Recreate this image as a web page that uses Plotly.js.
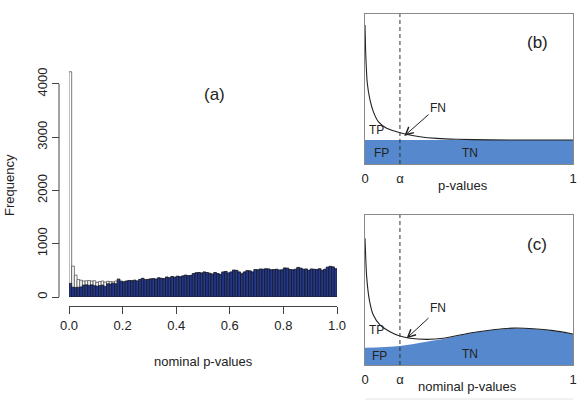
<!DOCTYPE html>
<html>
<head>
<meta charset="utf-8">
<script src="https://cdn.plot.ly/plotly-3.0.1.min.js"></script>
<style>html,body{margin:0;padding:0;background:#fff;}#chart{width:579px;height:406px;}</style>
</head>
<body>
<div id="chart"></div>
<script>
// ---------- Panel (a): histogram of nominal p-values (100 bins of width 0.01) ----------
const binWidth = 0.01;
const allCounts = [4230, 580, 410, 330, 315, 300, 305, 310, 300, 305, 275, 290, 300, 280, 295, 290, 285, 300, 340, 300,
  285, 300, 310, 305, 315, 300, 330, 350, 325, 330, 340, 345, 335, 360, 350, 345, 375, 360, 385, 370,
  390, 380, 395, 410, 400, 405, 440, 455, 460, 450, 470, 460, 445, 430, 460, 440, 425, 470, 480, 450,
  470, 505, 500, 470, 435, 470, 495, 490, 470, 515, 510, 525, 520, 530, 525, 510, 515, 520, 505, 510,
  545, 540, 515, 510, 520, 555, 540, 520, 525, 500, 525, 520, 515, 530, 500, 520, 560, 575, 565, 530];
const nullCounts = [257, 185, 180, 183, 190, 225, 230, 220, 230, 215, 205, 215, 225, 200, 250, 245, 260, 250, 330, 290,
  285, 300, 310, 305, 315, 300, 330, 350, 325, 330, 340, 345, 335, 360, 350, 345, 375, 360, 385, 370,
  390, 380, 395, 410, 400, 405, 440, 455, 460, 450, 470, 460, 445, 430, 460, 440, 425, 470, 480, 450,
  470, 505, 500, 470, 435, 470, 495, 490, 470, 515, 510, 525, 520, 530, 525, 510, 515, 520, 505, 510,
  545, 540, 515, 510, 520, 555, 540, 520, 525, 500, 525, 520, 515, 530, 500, 520, 560, 575, 565, 530];
const xTicksA = [0, 0.2, 0.4, 0.6, 0.8, 1.0];
const xTickTextA = ['0.0', '0.2', '0.4', '0.6', '0.8', '1.0'];
const yTicksA = [0, 1000, 2000, 3000, 4000];

// ---------- Panel (b): schematic, uniform null ----------
const alpha = 0.168;
const schemTicks = [0, alpha, 1];
const schemTickText = ['0', 'α', '1'];
const pB = [0, 0.0034, 0.011, 0.024, 0.040, 0.064, 0.104, 0.152, 0.192, 0.264, 0.345, 0.441, 0.6, 0.8, 1.0];
const densB = [0.927, 0.738, 0.538, 0.427, 0.349, 0.282, 0.238, 0.215, 0.200, 0.182, 0.171, 0.165, 0.161, 0.160, 0.160];
const nullPB = [0, 1];
const nullB = [0.16, 0.16];

// ---------- Panel (c): schematic, non-uniform null ----------
const pC = [0, 0.008, 0.021, 0.040, 0.072, 0.120, 0.168, 0.216, 0.297, 0.376, 0.457, 0.505, 0.617, 0.713, 0.810, 0.906, 1.0];
const densC = [0.845, 0.589, 0.433, 0.333, 0.267, 0.222, 0.193, 0.178, 0.171, 0.178, 0.200, 0.213, 0.235, 0.246, 0.242, 0.229, 0.207];
const nullPC = [0, 0.168, 0.297, 0.393, 0.505, 0.617, 0.713, 0.810, 0.906, 1.0];
const nullC = [0.115, 0.127, 0.155, 0.178, 0.211, 0.233, 0.244, 0.240, 0.227, 0.205];

// ---------- build ----------
const W = 579, H = 406;
const px = v => v / W;           // pixel x -> paper
const py = v => (H - v) / H;     // pixel y -> paper
const binMids = allCounts.map((_, i) => (i + 0.5) * binWidth);

const FONT = 'Liberation Sans, Arial, Helvetica, sans-serif';
const TXT = '#222';
const navy = '#25398e';
const lightBlue = '#5588cc';
const frameCol = '#8a8a8a';

const traces = [
  {type: 'bar', x: binMids, y: allCounts, width: binWidth, xaxis: 'x', yaxis: 'y',
   marker: {color: '#ffffff', line: {color: '#444', width: 0.7}}, hoverinfo: 'skip'},
  {type: 'bar', x: binMids, y: nullCounts, width: binWidth, xaxis: 'x', yaxis: 'y',
   marker: {color: navy, line: {color: '#111', width: 0.6}}, hoverinfo: 'skip'},
  {type: 'scatter', mode: 'lines', x: nullPB, y: nullB, xaxis: 'x2', yaxis: 'y2', fill: 'tozeroy',
   fillcolor: lightBlue, line: {width: 0, color: lightBlue}},
  {type: 'scatter', mode: 'lines', x: pB, y: densB, xaxis: 'x2', yaxis: 'y2',
   line: {color: '#222', width: 1.1, shape: 'spline', smoothing: 0.6}},
  {type: 'scatter', mode: 'lines', x: nullPC, y: nullC, xaxis: 'x3', yaxis: 'y3', fill: 'tozeroy',
   fillcolor: lightBlue, line: {width: 0, color: lightBlue, shape: 'spline'}},
  {type: 'scatter', mode: 'lines', x: pC, y: densC, xaxis: 'x3', yaxis: 'y3',
   line: {color: '#222', width: 1.1, shape: 'spline', smoothing: 0.6}}
];

const schemX = (dom, anchor) => ({
  domain: dom, anchor: anchor, range: [0, 1], showgrid: false, zeroline: false,
  showline: true, mirror: true, linecolor: frameCol, linewidth: 1,
  tickmode: 'array', tickvals: schemTicks, ticktext: schemTickText, ticks: '',
  tickfont: {family: FONT, size: 13, color: TXT}, ticklabelstandoff: 2
});
const schemY = (dom, anchor) => ({
  domain: dom, anchor: anchor, range: [0, 1], showgrid: false, zeroline: false,
  showline: true, mirror: true, linecolor: frameCol, linewidth: 1, showticklabels: false, ticks: ''
});

const yTop = 4000 + 300;
const layout = {
  width: W, height: H, margin: {l: 0, r: 0, t: 0, b: 0},
  paper_bgcolor: '#fff', plot_bgcolor: 'rgba(0,0,0,0)', showlegend: false,
  barmode: 'overlay', bargap: 0,
  font: {family: FONT, color: TXT},
  xaxis: {domain: [px(69), px(337)], range: [0, 1], anchor: 'free', position: py(306),
    showgrid: false, zeroline: false, showline: true, linecolor: '#444', linewidth: 1,
    tickmode: 'array', tickvals: xTicksA, ticktext: xTickTextA, ticks: 'outside', ticklen: 7,
    tickcolor: '#444', tickfont: {family: FONT, size: 13, color: TXT}},
  yaxis: {domain: [py(297), py(297 - yTop * (213 / 4000))], range: [0, yTop], anchor: 'free', position: px(59),
    showgrid: false, zeroline: false, showline: false,
    tickmode: 'array', tickvals: yTicksA, ticks: 'outside', ticklen: 7, tickcolor: '#444',
    tickangle: -90, tickfont: {family: FONT, size: 13, color: TXT}},
  xaxis2: schemX([px(365), px(573)], 'y2'),
  yaxis2: schemY([py(164), py(14)], 'x2'),
  xaxis3: schemX([px(365), px(573)], 'y3'),
  yaxis3: schemY([py(365), py(215)], 'x3'),
  shapes: [
    {type: 'line', xref: 'paper', yref: 'y', x0: px(59), x1: px(59),
     y0: yTicksA[0], y1: yTicksA[yTicksA.length - 1], line: {color: '#444', width: 1}},
    {type: 'line', xref: 'x2', yref: 'y2 domain', x0: alpha, x1: alpha, y0: 0, y1: 1,
     line: {color: '#333', width: 1, dash: '4px,3px'}},
    {type: 'line', xref: 'x3', yref: 'y3 domain', x0: alpha, x1: alpha, y0: 0, y1: 1,
     line: {color: '#333', width: 1, dash: '4px,3px'}},
    {type: 'line', xref: 'x3 domain', yref: 'paper', x0: 0, x1: 1, y0: py(399), y1: py(399),
     line: {color: '#e4e4e4', width: 1}}
  ],
  annotations: []
};

const ann = layout.annotations;
const txt = (text, x, y, xref, yref, size) => ann.push({text: text, x: x, y: y, xref: xref, yref: yref,
  showarrow: false, xanchor: 'center', yanchor: 'middle', font: {family: FONT, size: size, color: TXT}});

// panel (a)
txt('(a)', px(214), py(94), 'paper', 'paper', 17);
txt('nominal p-values', px(203), py(361), 'paper', 'paper', 13);
ann.push({text: 'Frequency', x: px(9), y: py(185), xref: 'paper', yref: 'paper', showarrow: false,
  textangle: -90, xanchor: 'center', yanchor: 'middle', font: {family: FONT, size: 13, color: TXT}});

// panel (b)
txt('(b)', 0.827, 0.807, 'x2', 'y2', 17);
txt('TP', 0.056, 0.227, 'x2', 'y2', 12);
txt('FP', 0.08, 0.071, 'x2', 'y2', 12);
txt('TN', 0.505, 0.071, 'x2', 'y2', 12);
txt('FN', 0.352, 0.371, 'x2', 'y2', 12);
ann.push({text: '', x: 0.189, y: 0.187, ax: 0.3125, ay: 0.338, xref: 'x2', yref: 'y2', axref: 'x2', ayref: 'y2',
  showarrow: true, arrowhead: 5, arrowsize: 1.5, arrowwidth: 1, arrowcolor: '#222'});
txt('p-values', px(463), py(185), 'paper', 'paper', 13);

// panel (c)
txt('(c)', 0.827, 0.80, 'x3', 'y3', 17);
txt('TP', 0.056, 0.233, 'x3', 'y3', 12);
txt('FP', 0.072, 0.06, 'x3', 'y3', 12);
txt('TN', 0.505, 0.073, 'x3', 'y3', 12);
txt('FN', 0.352, 0.378, 'x3', 'y3', 12);
ann.push({text: '', x: 0.2, y: 0.178, ax: 0.3125, ay: 0.322, xref: 'x3', yref: 'y3', axref: 'x3', ayref: 'y3',
  showarrow: true, arrowhead: 5, arrowsize: 1.5, arrowwidth: 1, arrowcolor: '#222'});
txt('nominal p-values', px(467), py(386), 'paper', 'paper', 13);

Plotly.newPlot('chart', traces, layout, {staticPlot: true, displayModeBar: false});
</script>
</body>
</html>
